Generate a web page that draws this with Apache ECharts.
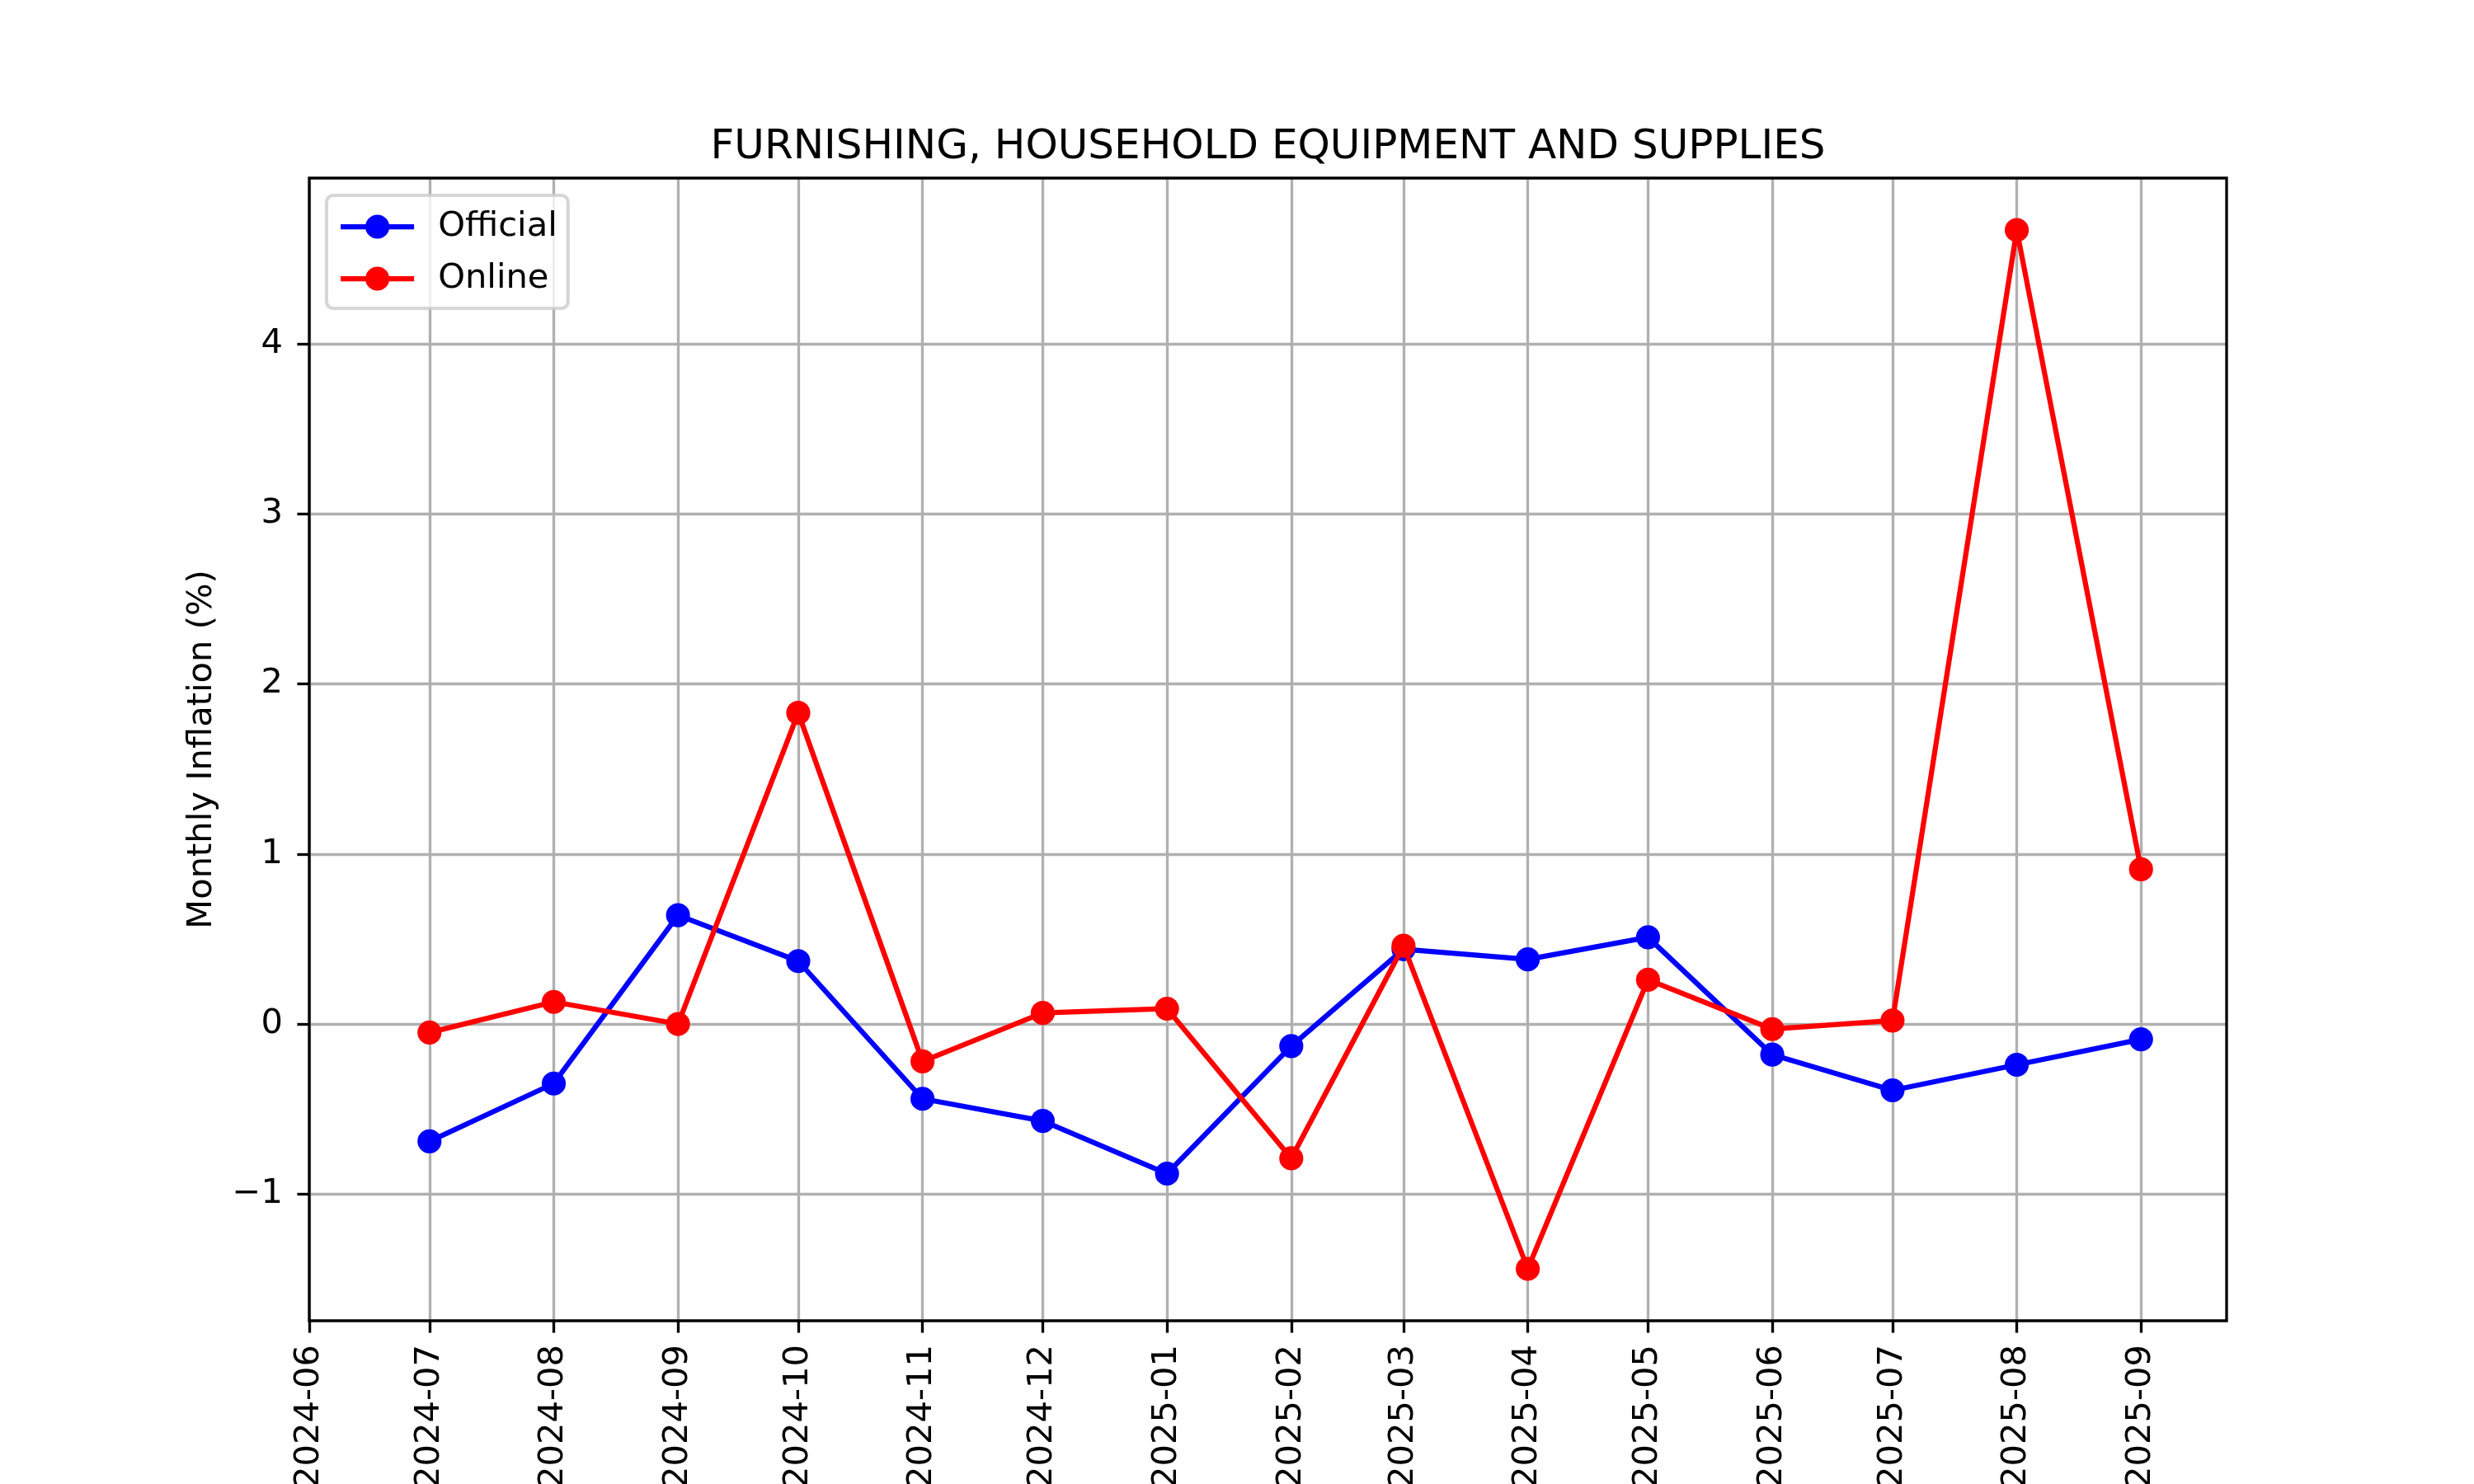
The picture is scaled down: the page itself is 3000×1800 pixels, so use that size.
<!DOCTYPE html>
<html>
<head>
<meta charset="utf-8">
<title>Furnishing, household equipment and supplies</title>
<script src="https://cdn.jsdelivr.net/npm/echarts@6/dist/echarts.min.js"></script>
<style>
  html, body { margin: 0; padding: 0; background: #fff; }
  #chart { width: 3000px; height: 1800px; }
</style>
</head>
<body>
<div id="chart"></div>
<script>
// months of the observations
const months = [
  "2024-07", "2024-08", "2024-09", "2024-10", "2024-11", "2024-12", "2025-01",
  "2025-02", "2025-03", "2025-04", "2025-05", "2025-06", "2025-07", "2025-08", "2025-09",
];
// monthly inflation (%)
const official = [-0.69, -0.35, 0.64, 0.37, -0.44, -0.57, -0.88, -0.13, 0.44, 0.38, 0.51, -0.18, -0.39, -0.24, -0.09];
const online = [-0.05, 0.13, 0.0, 1.83, -0.22, 0.065, 0.09, -0.79, 0.46, -1.44, 0.26, -0.03, 0.02, 4.67, 0.91];
// axis ticks
const xTickLabels = [
  "2024-06", "2024-07", "2024-08", "2024-09", "2024-10", "2024-11", "2024-12", "2025-01",
  "2025-02", "2025-03", "2025-04", "2025-05", "2025-06", "2025-07", "2025-08", "2025-09",
];
const yTicks = [-1, 0, 1, 2, 3, 4];

const FONT = "DejaVu Sans";
const PT = 300 / 72; // matplotlib points -> px at 300 dpi

// x is measured in days since the epoch, like matplotlib dates
const toDay = (s) => {
  const [y, m] = s.split("-").map(Number);
  return Date.UTC(y, m - 1, 1) / 86400000;
};
const xTickDays = xTickLabels.map(toDay);

// matplotlib style 5% margins
const allVals = official.concat(online);
const vMin = Math.min(...allVals);
const vMax = Math.max(...allVals);
const yPad = (vMax - vMin) * 0.05;
const dFirst = toDay(months[0]);
const dLast = toDay(months[months.length - 1]);
const xMax = dLast + (dLast - dFirst) * 0.05;

// marker 6pt plus a 1pt edge
const markerSize = 7 * PT;

const chart = echarts.init(document.getElementById("chart"), null, { renderer: "canvas" });

const option = {
  animation: false,
  backgroundColor: "#fff",
  textStyle: { fontFamily: FONT },
  title: {
    text: "FURNISHING, HOUSEHOLD EQUIPMENT AND SUPPLIES",
    left: 1537.5,
    top: 154,
    padding: 0,
    textAlign: "center",
    textStyle: { fontFamily: FONT, fontSize: 12 * PT, fontWeight: "normal", color: "#000" },
  },
  legend: {
    data: ["Official", "Online"],
    orient: "vertical",
    left: 396,
    top: 237,
    itemWidth: 89,
    itemHeight: markerSize / 0.8,
    itemGap: 21,
    padding: [17, 13, 15, 14],
    backgroundColor: "rgba(255,255,255,0.8)",
    borderColor: "rgba(204,204,204,0.8)",
    borderWidth: 1 * PT,
    borderRadius: 8,
    lineStyle: { width: 1.5 * PT },
    textStyle: { fontFamily: FONT, fontSize: 10 * PT, color: "#000", padding: [0, 0, 0, 24] },
  },
  grid: {
    left: 375,
    right: 300,
    top: 216,
    bottom: 198,
    outerBoundsMode: "none",
    show: true,
    z: 1,
    backgroundColor: "transparent",
    borderColor: "#000",
    borderWidth: 0.8 * PT,
  },
  xAxis: {
    type: "value",
    min: xTickDays[0],
    max: xMax,
    axisLine: { show: false, onZero: false },
    axisTick: {
      show: true,
      customValues: xTickDays,
      length: 3.5 * PT,
      lineStyle: { color: "#000", width: 0.8 * PT },
    },
    axisLabel: {
      customValues: xTickDays,
      rotate: 90,
      margin: 29,
      showMinLabel: true,
      fontFamily: FONT,
      fontSize: 10 * PT,
      color: "#000",
      formatter: (v) => {
        const i = xTickDays.findIndex((d) => Math.abs(d - v) < 0.5);
        return i >= 0 ? xTickLabels[i] : "";
      },
    },
    splitLine: { show: true, lineStyle: { color: "#b0b0b0", width: 0.8 * PT } },
  },
  yAxis: {
    type: "value",
    min: vMin - yPad,
    max: vMax + yPad,
    name: "Monthly Inflation (%)",
    nameLocation: "middle",
    nameGap: 109,
    nameTextStyle: { fontFamily: FONT, fontSize: 10 * PT, color: "#000" },
    axisLine: { show: false, onZero: false },
    axisTick: {
      show: true,
      customValues: yTicks,
      length: 3.5 * PT,
      lineStyle: { color: "#000", width: 0.8 * PT },
    },
    axisLabel: {
      customValues: yTicks,
      margin: 32,
      fontFamily: FONT,
      fontSize: 10 * PT,
      color: "#000",
      formatter: (v) => String(v).replace("-", "\u2212"),
    },
    splitLine: { show: true, lineStyle: { color: "#b0b0b0", width: 0.8 * PT } },
  },
  series: [
    {
      name: "Official",
      type: "line",
      z: 3,
      data: months.map((m, i) => [toDay(m), official[i]]),
      symbol: "circle",
      symbolSize: markerSize,
      showAllSymbol: true,
      itemStyle: { color: "#0000ff" },
      lineStyle: { color: "#0000ff", width: 1.5 * PT },
    },
    {
      name: "Online",
      type: "line",
      z: 4,
      data: months.map((m, i) => [toDay(m), online[i]]),
      symbol: "circle",
      symbolSize: markerSize,
      showAllSymbol: true,
      itemStyle: { color: "#ff0000" },
      lineStyle: { color: "#ff0000", width: 1.5 * PT },
    },
  ],
};

chart.setOption(option);
</script>
</body>
</html>
